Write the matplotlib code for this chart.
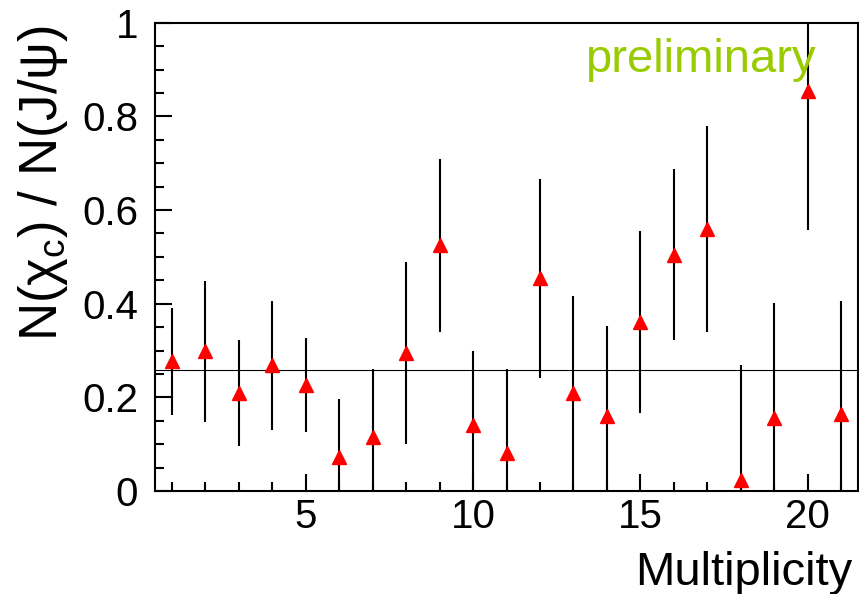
import matplotlib
matplotlib.use("Agg")
import matplotlib.pyplot as plt
from matplotlib.ticker import MultipleLocator, FuncFormatter

plt.rcParams['font.family'] = ['Liberation Sans', 'DejaVu Sans']
plt.rcParams['mathtext.fontset'] = 'custom'
plt.rcParams['mathtext.rm'] = 'Liberation Sans'

# data
multiplicity = [1, 2, 3, 4, 5, 6, 7, 8, 9, 10, 11,
                12, 13, 14, 15, 16, 17, 18, 19, 20, 21]
ratio = [0.277, 0.298, 0.209, 0.268, 0.227, 0.072, 0.115, 0.295, 0.525, 0.141, 0.081,
         0.454, 0.209, 0.160, 0.361, 0.505, 0.560, 0.024, 0.155, 0.854, 0.164]
ratio_err = [0.114, 0.151, 0.113, 0.138, 0.100, 0.125, 0.145, 0.194, 0.185, 0.157, 0.179,
             0.213, 0.207, 0.192, 0.194, 0.183, 0.220, 0.245, 0.246, 0.297, 0.242]
mean_ratio = 0.258

W, H = 859, 594
fig = plt.figure(figsize=(W / 100, H / 100), dpi=100)
ax = fig.add_axes([155 / W, (H - 491) / H, 703 / W, 468.3 / H])

# average line
ax.axhline(mean_ratio, color='black', lw=0.8, zorder=1)

# points with error bars
ax.errorbar(multiplicity, ratio, yerr=ratio_err, fmt='^', color='red',
            ms=9.5, mec='red', ecolor='black', elinewidth=1.5, capsize=0, zorder=3)

ax.set_xlim(0.5, 21.5)
ax.set_ylim(0, 1)

ax.xaxis.set_major_locator(MultipleLocator(5))
ax.xaxis.set_minor_locator(MultipleLocator(1))
ax.yaxis.set_major_locator(MultipleLocator(0.2))
ax.yaxis.set_minor_locator(MultipleLocator(0.05))
ax.yaxis.set_major_formatter(FuncFormatter(lambda v, p: f"{v:g}"))

ax.tick_params(which='both', direction='in', top=False, right=False, width=1.5)
ax.tick_params(which='major', length=12.5, labelsize=29)
ax.tick_params(axis='y', which='major', pad=12)
ax.tick_params(axis='x', which='major', pad=5)
ax.tick_params(which='minor', length=6.5)

for s in ax.spines.values():
    s.set_linewidth(1.5)

ax.set_xlabel('Multiplicity', fontsize=34, ha='right', va='baseline')
ax.xaxis.set_label_coords(0.9915, -0.2007)
ax.set_ylabel(r'N(χ$_{\mathrm{c}}$) / N(J/ψ)', fontsize=38, ha='right', va='center')
ax.yaxis.set_label_coords(-0.159, 0.995)

ax.text(0.612, 0.895, 'preliminary', transform=ax.transAxes, color='#99cc00',
        fontsize=34, ha='left', va='baseline')

fig.savefig('out.png', dpi=100)
